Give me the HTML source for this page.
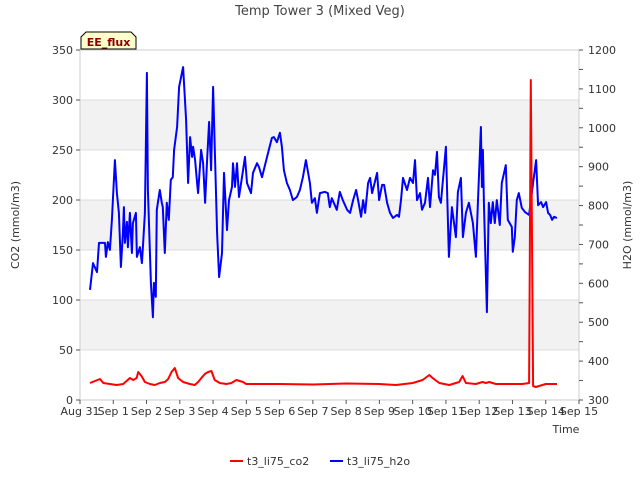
<!DOCTYPE html>
<html><head><meta charset="utf-8"><style>
html,body{margin:0;padding:0;background:#fff;}
svg{display:block;font-family:"DejaVu Sans","Liberation Sans",sans-serif;}
</style></head><body>
<svg id="chart" width="640" height="480" viewBox="0 0 640 480" xmlns="http://www.w3.org/2000/svg">
<g id="bg"></g><g id="grid"></g><g id="series"></g><g id="axes"></g>
<text x="320" y="15" text-anchor="middle" font-size="13" fill="#444">Temp Tower 3 (Mixed Veg)</text>
<g>
<path d="M81,49 L81,37 L86,32 L131,32 L136,37 L136,49 Z" fill="#ffffcc" stroke="#000" stroke-width="1"/>
<text x="108.5" y="46" text-anchor="middle" font-size="11" font-weight="bold" fill="#8b0000">EE_flux</text>
</g>
<text transform="translate(19,225) rotate(-90)" text-anchor="middle" font-size="11" fill="#333">CO2 (mmol/m3)</text>
<text transform="translate(631,225) rotate(-90)" text-anchor="middle" font-size="11" fill="#333">H2O (mmol/m3)</text>
<text x="566" y="433" text-anchor="middle" font-size="11" fill="#333">Time</text>
<g>
<g><line x1="230" y1="461" x2="243" y2="461" stroke="#f00" stroke-width="2"/><text x="247" y="465" font-size="11" fill="#333">t3_li75_co2</text></g>
<g><line x1="330" y1="461" x2="343" y2="461" stroke="#00f" stroke-width="2"/><text x="347" y="465" font-size="11" fill="#333">t3_li75_h2o</text></g>
</g>
</svg>
<script>
const xTickLabels=["Aug 31","Sep 1","Sep 2","Sep 3","Sep 4","Sep 5","Sep 6","Sep 7","Sep 8","Sep 9","Sep 10","Sep 11","Sep 12","Sep 13","Sep 14","Sep 15"];
const leftTicks=[0,50,100,150,200,250,300,350];
const rightTicks=[300,400,500,600,700,800,900,1000,1100,1200];
const h2oDays=[0.30,0.39,0.51,0.57,0.75,0.78,0.84,0.90,0.96,1.05,1.11,1.17,1.23,1.29,1.32,1.35,1.41,1.44,1.50,1.56,1.59,1.68,1.71,1.80,1.86,1.89,1.95,2.01,2.04,2.13,2.19,2.22,2.28,2.31,2.40,2.46,2.49,2.55,2.61,2.67,2.73,2.79,2.83,2.92,2.98,3.10,3.19,3.25,3.31,3.37,3.40,3.46,3.52,3.55,3.64,3.70,3.76,3.82,3.88,3.94,4.00,4.06,4.12,4.18,4.27,4.33,4.42,4.48,4.57,4.60,4.66,4.72,4.78,4.87,4.96,5.02,5.14,5.20,5.32,5.38,5.47,5.56,5.65,5.77,5.83,5.92,6.01,6.07,6.13,6.22,6.31,6.40,6.52,6.61,6.70,6.79,6.91,6.97,7.06,7.12,7.21,7.36,7.45,7.51,7.57,7.72,7.81,7.90,8.03,8.12,8.21,8.30,8.36,8.45,8.51,8.57,8.66,8.72,8.78,8.93,8.99,9.08,9.14,9.23,9.32,9.41,9.53,9.59,9.65,9.71,9.83,9.92,10.01,10.07,10.13,10.22,10.28,10.37,10.46,10.52,10.61,10.67,10.73,10.79,10.85,11.00,11.09,11.18,11.30,11.36,11.45,11.51,11.60,11.69,11.81,11.90,11.96,12.05,12.08,12.11,12.14,12.23,12.29,12.35,12.41,12.47,12.53,12.62,12.68,12.80,12.86,12.98,13.01,13.07,13.13,13.19,13.28,13.38,13.50,13.62,13.71,13.77,13.86,13.92,14.01,14.07,14.13,14.19,14.25,14.34];
const h2oValues=[583,652,629,704,704,668,706,686,763,917,832,781,642,729,796,704,758,693,781,678,755,781,668,693,652,693,781,1141,840,601,513,601,565,789,840,807,796,678,807,763,866,873,943,1002,1105,1156,1020,858,976,925,951,917,858,832,943,909,807,917,1015,891,1105,917,729,616,678,884,737,814,848,909,848,909,822,873,925,858,832,884,909,899,873,904,935,974,976,963,987,951,891,858,840,814,822,840,873,917,858,807,819,781,832,835,832,796,819,789,835,814,789,781,814,840,814,771,814,781,858,871,832,884,814,853,853,807,781,768,776,771,814,871,840,871,858,917,814,832,789,807,871,796,891,879,938,822,807,951,668,796,719,835,871,719,781,807,755,668,807,1002,848,943,807,526,807,755,809,755,814,750,858,904,763,745,681,719,814,832,794,783,776,858,917,801,809,796,809,781,776,763,771,768];
const co2Days=[0.3,0.45,0.6,0.7,0.9,1.1,1.3,1.4,1.5,1.6,1.7,1.75,1.85,1.95,2.1,2.25,2.4,2.55,2.65,2.75,2.85,2.95,3.1,3.3,3.45,3.55,3.65,3.75,3.85,3.95,4.05,4.2,4.4,4.55,4.7,4.8,4.9,5.0,6,7,8,9,9.5,10,10.3,10.5,10.6,10.8,11.1,11.4,11.5,11.6,11.9,12.1,12.2,12.3,12.5,12.8,13.3,13.5,13.55,13.62,13.7,14,14.34];
const co2Values=[17,19,21,17,16,15,16,19,22,20,22,28,24,18,16,15,17,18,21,28,32,22,18,16,15,18,22,26,28,29,20,17,16,17,20,19,18,16,16,15.5,16.5,16,15,17,20,25,22,17,15,18,24,17,16,18,17,18,16,16,16,17,320,14,13,16,16];
const X0=80,X1=579,Y0=400,Y1=50;
const xs=d=>X0+d*(X1-X0)/15;
const yl=v=>Y0-(v/350)*(Y0-Y1);
const yr=v=>Y0-((v-300)/900)*(Y0-Y1);
const NS="http://www.w3.org/2000/svg";
function mk(tag,attrs,parent){const e=document.createElementNS(NS,tag);for(const k in attrs)e.setAttribute(k,attrs[k]);document.getElementById(parent).appendChild(e);return e;}
// background bands
[[50,100],[150,200],[250,300]].forEach(b=>{const r=mk('rect',{x:X0,y:yl(b[1]),width:X1-X0,height:yl(b[0])-yl(b[1]),fill:'#f2f2f2'},'bg');

});
leftTicks.forEach(v=>{const l=mk('line',{x1:X0,x2:X1,y1:yl(v),y2:yl(v),stroke:'#dcdcdc','stroke-width':1},'grid');

});
const fr=mk('rect',{x:X0,y:Y1,width:X1-X0,height:Y0-Y1,fill:'none',stroke:'#cccccc'},'axes');


leftTicks.forEach(v=>{mk('line',{x1:X0-4,x2:X0,y1:yl(v),y2:yl(v),stroke:'#555'},'axes');
const t=mk('text',{x:X0-7,y:yl(v)+4,'text-anchor':'end','font-size':11,fill:'#333'},'axes');t.textContent=v;

});
for(let v=300;v<=1200;v+=50){mk('line',{x1:X1,x2:X1+4,y1:yr(v),y2:yr(v),stroke:'#555'},'axes');}
rightTicks.forEach(v=>{const t=mk('text',{x:X1+9,y:yr(v)+4,'font-size':11,fill:'#333'},'axes');t.textContent=v;

});
xTickLabels.forEach((s,i)=>{mk('line',{x1:xs(i),x2:xs(i),y1:Y0,y2:Y0+4,stroke:'#555'},'axes');
const t=mk('text',{x:xs(i),y:Y0+15,'text-anchor':'middle','font-size':11,fill:'#333'},'axes');t.textContent=s;

});
const hp=mk('polyline',{points:h2oDays.map((d,i)=>xs(d).toFixed(1)+','+yr(h2oValues[i]).toFixed(1)).join(' '),fill:'none',stroke:'#0000ff','stroke-width':2,'stroke-linejoin':'round'},'series');


const cp=mk('polyline',{points:co2Days.map((d,i)=>xs(d).toFixed(1)+','+yl(co2Values[i]).toFixed(1)).join(' '),fill:'none',stroke:'#ff0000','stroke-width':2,'stroke-linejoin':'round'},'series');


</script>
</body></html>
